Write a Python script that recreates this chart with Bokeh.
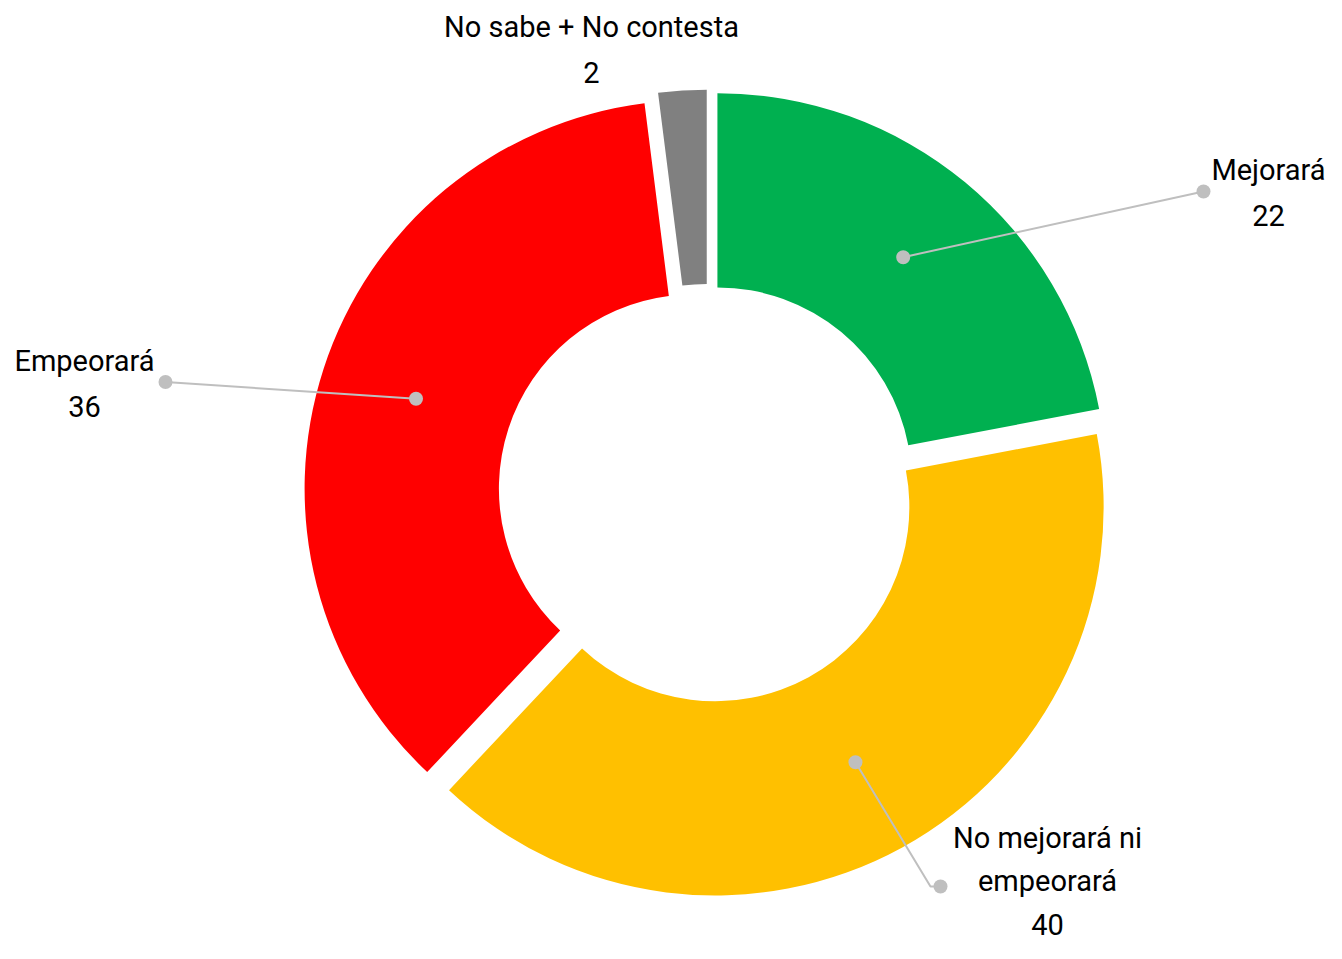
import math
from bokeh.plotting import figure
from bokeh.models import Range1d, ColumnDataSource
from bokeh.core.properties import value
from bokeh.embed import file_html
from bokeh.resources import INLINE

# ---------------- data ----------------
categories = ["Mejorará", "No mejorará ni empeorará", "Empeorará", "No sabe + No contesta"]
values = [22, 40, 36, 2]
label_lines = [["Mejorará"], ["No mejorará ni", "empeorará"], ["Empeorará"], ["No sabe + No contesta"]]
colors = ["#00B050", "#FFC000", "#FF0000", "#808080"]

# ---------------- layout (picture pixels) ----------------
W, H = 1326, 943
PAGE_H = 959
CX, CY = 707.2, 493.0
R_OUT, R_IN = 388.6, 194.3
EXPLODE = 15.25
label_pos = [(1268, 180), (1047, 848), (84, 371), (591, 37.5)]
line_pitch = [45.5, 43.5, 45.5, 45.5]
leader_end = [(1203, 191), (940, 886), (165, 381.5), None]
leader_elbow = [None, (930, 886), None, None]
TEXT_DY = -11
FONT = "Roboto"
FONT_SIZE = "29px"
LEADER_COLOR = "#BFBFBF"


def fy(screen_y):
    return PAGE_H - screen_y


p = figure(width=W, height=H, output_backend="svg", toolbar_location=None,
           x_axis_location=None, y_axis_location=None,
           x_range=Range1d(0, W), y_range=Range1d(PAGE_H - H, PAGE_H),
           min_border=0, outline_line_color=None)
p.grid.visible = False
p.background_fill_color = "white"
p.border_fill_color = "white"

total = float(sum(values))
xs, ys, starts, ends, mids = [], [], [], [], []
cum = 0.0
for v in values:
    t1 = cum / total * 2 * math.pi          # clockwise from top
    t2 = (cum + v) / total * 2 * math.pi
    tm = (t1 + t2) / 2
    cum += v
    ox = CX + EXPLODE * math.sin(tm)
    oy = CY - EXPLODE * math.cos(tm)
    xs.append(ox)
    ys.append(fy(oy))
    starts.append(math.pi / 2 - t2)
    ends.append(math.pi / 2 - t1)
    mids.append(tm)

src = ColumnDataSource(dict(x=xs, y=ys, start=starts, end=ends, color=colors, cat=categories))
p.annular_wedge(x="x", y="y", inner_radius=R_IN, outer_radius=R_OUT,
                start_angle="start", end_angle="end", direction="anticlock",
                fill_color="color", line_color=None, source=src)

# leader lines
for i, v in enumerate(values):
    if leader_end[i] is None:
        continue
    rm = (R_IN + R_OUT) / 2
    ix = xs[i] + rm * math.sin(mids[i])
    iy = ys[i] + rm * math.cos(mids[i])
    lx = [ix]
    ly = [iy]
    if leader_elbow[i] is not None:
        lx.append(leader_elbow[i][0])
        ly.append(fy(leader_elbow[i][1]))
    lx.append(leader_end[i][0])
    ly.append(fy(leader_end[i][1]))
    p.line(lx, ly, line_color=LEADER_COLOR, line_width=2)
    p.scatter([lx[0], lx[-1]], [ly[0], ly[-1]], size=14, fill_color=LEADER_COLOR,
              line_color=None)

# labels
tx, ty, tt = [], [], []
for i, v in enumerate(values):
    lines = label_lines[i] + [str(v)]
    x0, y0 = label_pos[i]
    for k, s in enumerate(lines):
        tx.append(x0)
        ty.append(fy(y0 + k * line_pitch[i] + TEXT_DY))
        tt.append(s)
p.text(x=tx, y=ty, text=tt, text_align="center", text_baseline="alphabetic",
       text_font=value(FONT), text_font_size=FONT_SIZE, text_color="#000000")

open("out.html", "w").write(file_html(p, INLINE))
